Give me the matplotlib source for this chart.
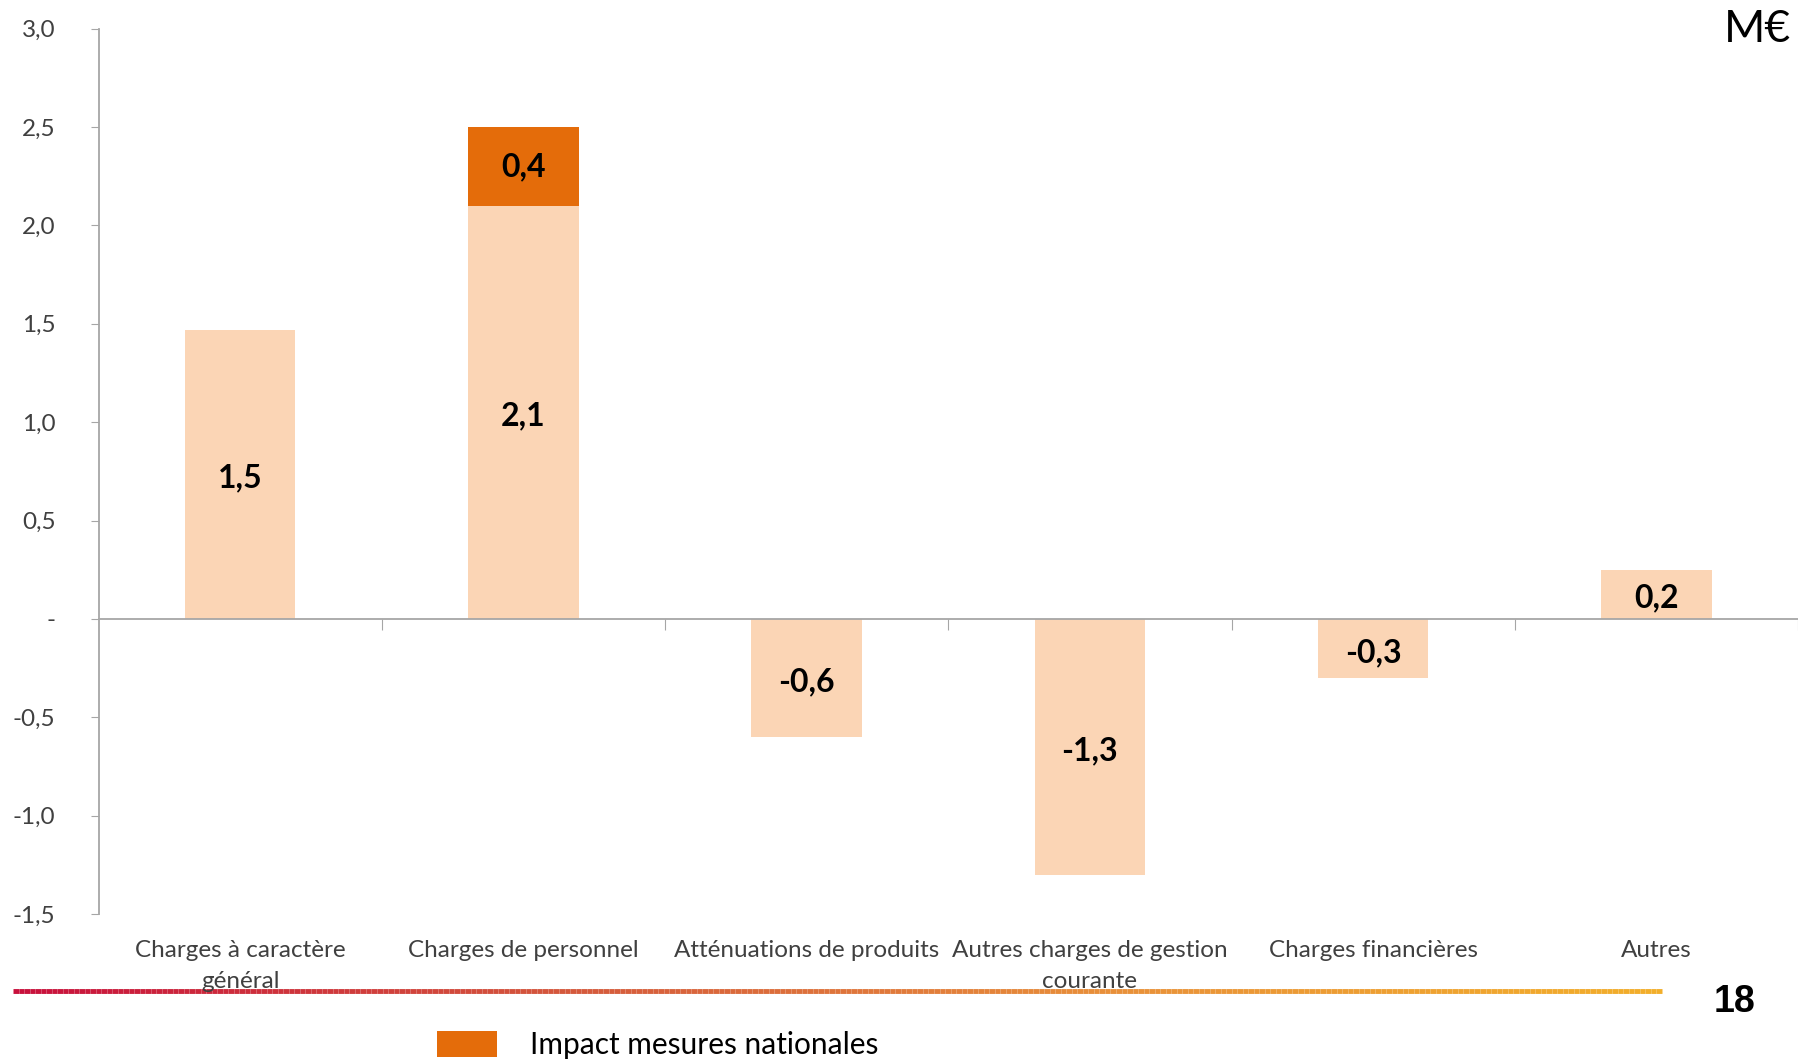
import numpy as np
import matplotlib.pyplot as plt
from matplotlib.collections import LineCollection
from matplotlib.colors import LinearSegmentedColormap

# data
categories = ['Charges à caractère\ngénéral', 'Charges de personnel',
              'Atténuations de produits', 'Autres charges de gestion\ncourante',
              'Charges financières', 'Autres']
base_vals = [1.47, 2.10, -0.60, -1.30, -0.30, 0.25]
base_labels = ['1,5', '2,1', '-0,6', '-1,3', '-0,3', '0,2']
impact_vals = [0, 0.40, 0, 0, 0, 0]
impact_labels = ['', '0,4', '', '', '', '']
yticks = [3.0, 2.5, 2.0, 1.5, 1.0, 0.5, 0.0, -0.5, -1.0, -1.5]
ytick_labels = ['3,0', '2,5', '2,0', '1,5', '1,0', '0,5', '-', '-0,5', '-1,0', '-1,5']

light = '#FBD5B5'
dark = '#E46C0A'
grey = '#A6A6A6'
txt = '#404040'

plt.rcParams['font.family'] = ['Lato', 'DejaVu Sans']

W, H = 1798, 1060
fig = plt.figure(figsize=(W / 100, H / 100), dpi=100)
ax = fig.add_axes([98.6 / W, 1 - 914 / H, 1 - 98.6 / W, (914 - 28.7) / H])

x = np.arange(len(categories))
bw = 0.39
ax.bar(x, base_vals, bw, color=light, zorder=2)
imp = ax.bar(x, impact_vals, bw, bottom=base_vals, color=dark, zorder=2)

for i in range(len(x)):
    ax.text(x[i], base_vals[i] / 2 - 0.02, base_labels[i], ha='center', va='center',
            fontsize=23, fontweight='bold', color='black', zorder=3)
    if impact_vals[i]:
        ax.text(x[i], base_vals[i] + impact_vals[i] / 2, impact_labels[i],
                ha='center', va='center', fontsize=23, fontweight='bold',
                color='black', zorder=3)

ax.set_xlim(-0.5, len(x) - 0.5)
ax.set_ylim(-1.5, 3.0)
ax.set_yticks(yticks)
ax.set_yticklabels(ytick_labels, fontsize=17.5, color=txt)
ax.tick_params(axis='y', length=6, color=grey, pad=25)

ax.spines['top'].set_visible(False)
ax.spines['right'].set_visible(False)
ax.spines['left'].set_color(grey)
ax.spines['left'].set_linewidth(1.3)
ax.spines['bottom'].set_position(('data', 0))
ax.spines['bottom'].set_color(grey)
ax.spines['bottom'].set_linewidth(1.3)
ax.set_xticks(np.arange(0.5, len(x) - 0.5 + 0.01, 1.0))
ax.set_xticklabels([])
ax.tick_params(axis='x', length=8, color=grey, direction='out')

# category names under the plot
for i, c in enumerate(categories):
    ax.text(x[i], -1.63, c, ha='center', va='top', fontsize=17.5,
            color=txt, linespacing=1.62)

fig.text(1 - 7 / W, 1 - 29 / H, 'M€', ha='right', va='center', fontsize=32, color='black')

# gradient line at the bottom
lax = fig.add_axes([0, 0, 1, 1], zorder=-1)
lax.set_xlim(0, W)
lax.set_ylim(H, 0)
lax.axis('off')
cmap = LinearSegmentedColormap.from_list('bar', ['#C8103C', '#D4583C', '#E8903A', '#F2AE2A'])
xs = np.linspace(13, 1662, 300)
segs = [[(xs[k], 991), (xs[k + 1], 991)] for k in range(len(xs) - 1)]
lc = LineCollection(segs, colors=cmap(np.linspace(0, 1, len(segs))), linewidths=3.5)
lax.add_collection(lc)

fig.text(1734 / W, 1 - 1002 / H, '18', ha='center', va='center', fontsize=27,
         fontweight='bold', family='Liberation Sans', color='black')

fig.legend([imp], ['Impact mesures nationales'], loc='center left',
           bbox_to_anchor=(437 / W, 1 - 1045 / H), frameon=False, fontsize=21.5,
           borderpad=0, borderaxespad=0,
           handlelength=2.0, handleheight=0.95, handletextpad=1.1, labelcolor='black')

fig.savefig('out.png', dpi=100, facecolor='white')
